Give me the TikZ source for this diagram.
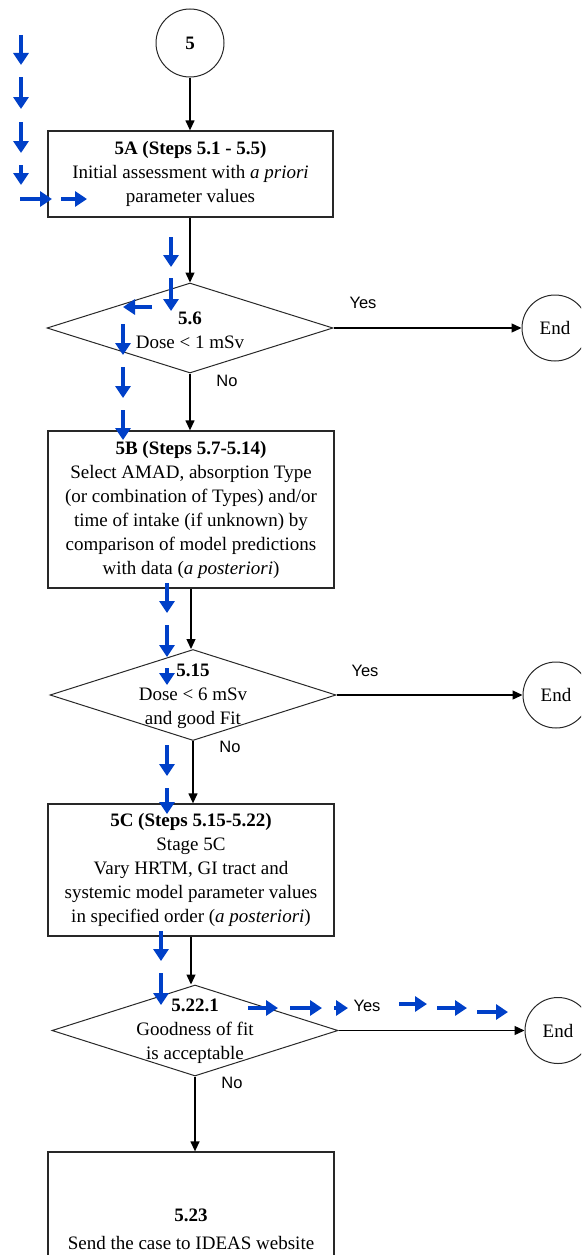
\documentclass[tikz,border=0pt]{standalone}
\usepackage{fontspec}
\setmainfont{Liberation Serif}
\newfontfamily\labelfont{Liberation Sans}
\usetikzlibrary{arrows.meta,shapes.geometric}
\definecolor{markblue}{RGB}{0,64,200}
\definecolor{frame}{RGB}{40,40,40}
\tikzset{
  body/.style={font=\fontsize{19}{24}\selectfont},
  box/.style={body, draw=frame, line width=1.3pt, minimum width=286pt,
    align=center, inner sep=0pt},
  decision/.style={draw=frame, diamond, line width=1pt, minimum width=286pt,
    minimum height=90pt, inner sep=0pt},
  dtext/.style={body, align=center, inner sep=0pt},
  terminal/.style={body, draw=frame, circle, line width=1pt, minimum size=66pt,
    inner sep=0pt},
  flow/.style={draw=black, line width=1.3pt, -{Triangle[width=9pt,length=10pt]}},
  answer/.style={font=\labelfont\fontsize{16.5}{18}\selectfont, inner sep=0pt},
  bluemark/.style={draw=markblue, line width=3.2pt,
    -{Triangle[width=15pt,length=12pt]}},
}
\begin{document}
\begin{tikzpicture}[x=1pt, y=-1pt]
\useasboundingbox (0,0) rectangle (581,1255);
\clip (0,0) rectangle (581,1255);

% start connector
\node[terminal, minimum size=68pt] (c5) at (190,43) {\textbf{5}};

% stage 5A
\node[box, minimum width=285pt, minimum height=86pt] (boxA) at (190.5,174)
  {\textbf{5A (Steps 5.1 - 5.5)}\\Initial assessment with \textit{a priori}\\parameter values};

% decision 5.6
\node[decision] (d56) at (190,328) {};
\node[dtext] (t56) at (190,330) {\textbf{5.6}\\Dose < 1 mSv};
\node[terminal] (endA) at (555,328) {End};
\node[answer] (yesA) at (363,303) {Yes};
\node[answer] (noA) at (227,381) {No};

% stage 5B
\node[box, minimum height=157pt] (boxB) at (191,509.5)
  {\textbf{5B (Steps 5.7-5.14)}\\Select AMAD, absorption Type\\(or combination of Types) and/or\\time of intake (if unknown) by\\comparison of model predictions\\with data (\textit{a posteriori})};

% decision 5.15
\node[decision, minimum height=91pt] (d515) at (193,695) {};
\node[dtext] (t515) at (193,696) {\textbf{5.15}\\Dose < 6 mSv\\and good Fit};
\node[terminal] (endB) at (556,695) {End};
\node[answer] (yesB) at (365,671) {Yes};
\node[answer] (noB) at (230,747) {No};

% stage 5C
\node[box, minimum height=132pt] (boxC) at (191,870)
  {\textbf{5C (Steps 5.15-5.22)}\\Stage 5C\\Vary HRTM, GI tract and\\systemic model parameter values\\in specified order (\textit{a posteriori})};

% decision 5.22.1
\node[decision, minimum height=91pt] (d5221) at (195,1030.5) {};
\node[dtext] (t5221) at (195,1031) {\textbf{5.22.1}\\Goodness of fit\\is acceptable};
\node[terminal] (endC) at (558,1030.5) {End};
\node[answer] (yesC) at (367,1006) {Yes};
\node[answer] (noC) at (232,1083) {No};

% stage 5.23
\node[box, minimum height=154pt] (boxD) at (191,1229)
  {\textbf{5.23}\\[4pt]Send the case to IDEAS website};

% flow connectors
\draw[flow] (c5.south) -- (c5.south |- boxA.north);
\draw[flow] (boxA.south -| d56.north) -- (d56.north);
\draw[flow] (d56.east) -- (endA.west);
\draw[flow] (d56.south) -- (d56.south |- boxB.north);
\draw[flow] (boxB.south) -- (boxB.south |- d515.north);
\draw[flow] (d515.east) -- (endB.west);
\draw[flow] (d515.south) -- (d515.south |- boxC.north);
\draw[flow] (boxC.south) -- (boxC.south |- d5221.north);
\draw[flow] (d5221.east) -- (endC.west);
\draw[flow] (d5221.south) -- (d5221.south |- boxD.north);

% blue markers pointing down
\foreach \x/\ya/\yb in {21/35/65, 21/77/109, 21/122/153, 21/165/185,
    171/237/267, 171/278/311,
    123/324/355, 123/367/398, 123/410/440,
    167/583/613, 167/625/657, 167/668/685, 167/745/776, 167/788/814,
    161/931/961, 161/973/1005}
  \draw[bluemark] (\x,\ya) -- (\x,\yb);
% blue markers pointing sideways
\foreach \y/\xa/\xb in {199/20/52, 199/61/87, 307/152/123,
    1008/248/278, 1008/290/322, 1008/334/348,
    1004/399/427, 1008/437/467, 1012/477/508}
  \draw[bluemark] (\xa,\y) -- (\xb,\y);
\end{tikzpicture}
\end{document}
